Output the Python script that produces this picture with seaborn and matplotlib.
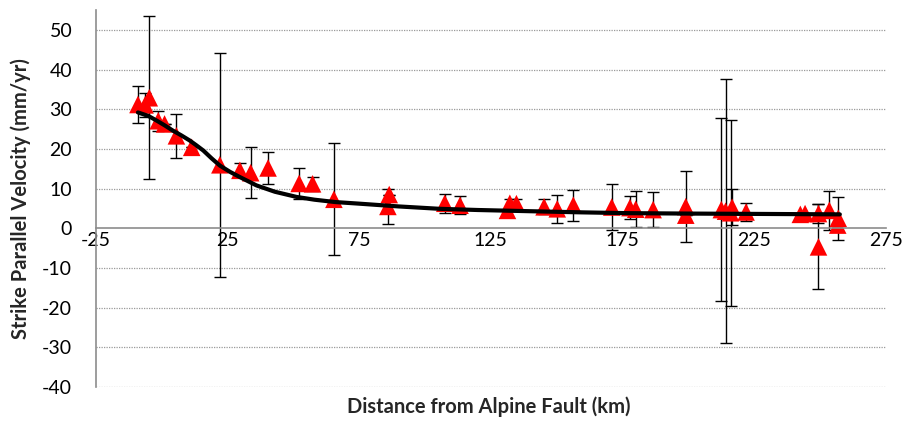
import matplotlib
matplotlib.use("Agg")
import matplotlib.pyplot as plt
import seaborn as sns
import numpy as np
import pandas as pd

# Observed stations: distance (km), strike-parallel velocity (mm/yr), error (mm/yr)
dist = [-9.0, -6.3, -4.7, -1.3, 1.1, 5.6, 11.4, 22.1, 29.7, 33.8, 40.4, 52.2, 57.3,
        65.4, 86.4, 85.9, 107.5, 113.3, 131.3, 132.2, 134.7, 145.2, 150.2, 156.3,
        170.9, 177.8, 180.0, 186.6, 199.0, 199.0, 212.5, 214.1, 216.0, 216.6, 221.9,
        242.5, 244.3, 249.4, 249.4, 253.5, 256.9, 256.7]
vel = [31.2, 31.1, 32.9, 27.1, 26.3, 23.3, 20.4, 16.0, 14.6, 14.0, 15.2, 11.3, 11.2,
       7.3, 8.5, 5.5, 6.3, 5.8, 4.5, 6.3, 6.2, 5.4, 4.9, 5.8,
       5.35, 5.2, 4.8, 4.7, 5.45, 3.3, 4.7, 4.3, 3.9, 5.3, 4.1,
       3.5, 3.7, 3.7, -4.7, 4.5, 2.5, 0.8]
err = [4.6, 3.1, 20.6, 2.5, 0.0, 5.5, 0.0, 28.2, 1.8, 6.4, 4.1, 3.9, 1.7,
       14.1, 0.0, 4.5, 2.4, 2.3, 0.0, 1.2, 1.2, 1.9, 3.5, 3.9,
       5.9, 2.9, 4.5, 4.5, 9.0, 0.0, 23.1, 33.3, 23.4, 4.5, 2.3,
       0.0, 0.0, 2.3, 10.7, 5.0, 5.5, 0.0]

# Model curve
model_x = [-9, -5, -1.8, 1, 4.3, 7.5, 10.7, 13, 15.8, 19, 22.1, 26, 29.7, 33, 36, 43,
           51.2, 58, 66, 75, 90, 105.5, 120, 139.6, 160, 177.8, 200, 230, 257.5]
model_y = [29.2, 28.3, 27.1, 26.0, 24.6, 23.4, 22.1, 21.0, 19.6, 17.6, 15.8, 14.2, 12.9,
           11.8, 10.8, 9.2, 7.9, 7.2, 6.6, 6.2, 5.5, 4.9, 4.6, 4.3, 4.0, 3.8, 3.7, 3.6, 3.5]

xticks = [-25, 25, 75, 125, 175, 225, 275]
yticks = [-40, -30, -20, -10, 0, 10, 20, 30, 40, 50]

obs = pd.DataFrame({"dist": dist, "vel": vel, "err": err})
model = pd.DataFrame({"x": model_x, "y": model_y})

sns.set_style("white")
plt.rcParams["font.family"] = ["Lato", "DejaVu Sans"]

fig = plt.figure(figsize=(9.04, 4.21), dpi=100)
ax = fig.add_axes([0.106, 0.081, 0.874, 0.895])

ax.errorbar(obs["dist"], obs["vel"], yerr=obs["err"], fmt="none", ecolor="black",
            elinewidth=1.0, capsize=4, capthick=1.0, zorder=1.8)
sns.scatterplot(data=obs, x="dist", y="vel", marker="^", color="#ff0000", s=160,
                edgecolor="none", linewidth=0, ax=ax, zorder=2, legend=False)
sns.lineplot(data=model, x="x", y="y", color="black", linewidth=3.0, ax=ax,
             zorder=3, legend=False, sort=False)

for s in ["top", "right"]:
    ax.spines[s].set_visible(False)
ax.spines["bottom"].set_position(("data", 0))
ax.spines["bottom"].set_color("#8c8c8c")
ax.spines["bottom"].set_linewidth(1.2)
ax.spines["left"].set_color("#8c8c8c")
ax.spines["left"].set_linewidth(1.2)

ax.set_xlim(-25, 275)
ax.set_ylim(-40, 55)
ax.set_xticks(xticks)
ax.set_yticks(yticks)
ax.set_xticklabels([str(t) for t in xticks])
ax.set_yticklabels([str(t) for t in yticks])
ax.tick_params(axis="x", length=0, pad=3, colors="black", labelsize=14)
ax.tick_params(axis="y", length=0, pad=17, colors="black", labelsize=14)

for yv in yticks:
    if yv != 0:
        ax.axhline(yv, color="#9a9a9a", linewidth=0.9, linestyle=(0, (1, 1)), zorder=1)

ax.set_xlabel("")
ax.set_ylabel("Strike Parallel Velocity (mm/yr)", fontsize=14.5, fontweight="bold", labelpad=8)
fig.text(0.541, 0.033, "Distance from Alpine Fault (km)", fontsize=14.5, fontweight="bold",
         ha="center", va="center")

fig.savefig("out.png", dpi=100)
